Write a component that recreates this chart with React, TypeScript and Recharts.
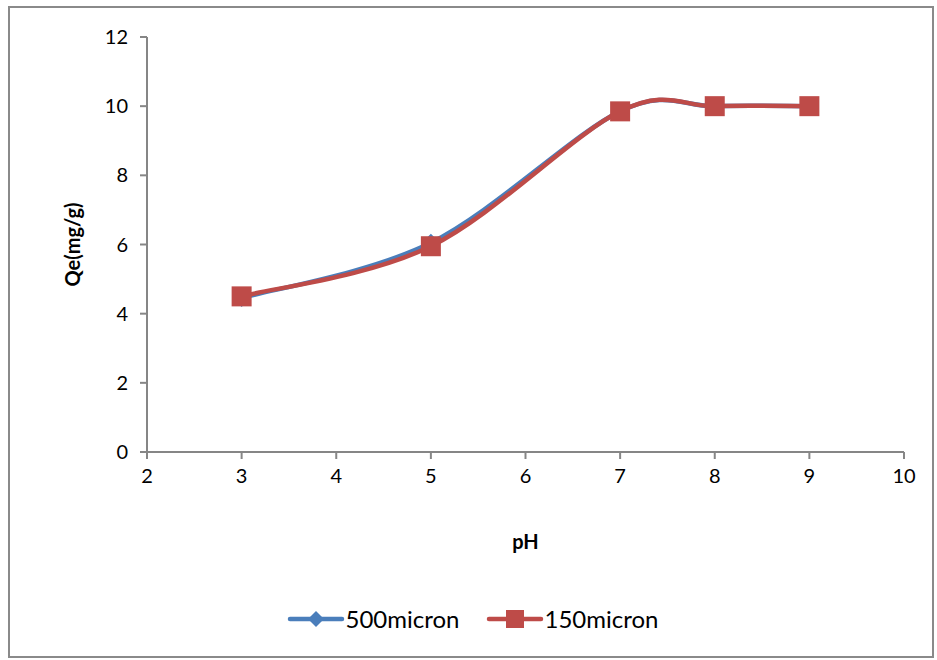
import React from "react";
import {
  LineChart,
  Line,
  XAxis,
  YAxis,
  Legend,
} from "recharts";

const PH = [3, 5, 7, 8, 9];
const QE_500 = [4.45, 6.05, 9.85, 10, 10];
const QE_150 = [4.5, 5.95, 9.85, 10, 10];
const X_TICKS = [2, 3, 4, 5, 6, 7, 8, 9, 10];
const Y_TICKS = [0, 2, 4, 6, 8, 10, 12];

const data = PH.map((ph, i) => ({ ph, s500: QE_500[i], s150: QE_150[i] }));

const BLUE = "#4a7ebb";
const RED = "#be4b48";
const AXIS = "#868686";
const FONT = "Lato, 'Open Sans', sans-serif";

// Excel-style smoothed line (Catmull-Rom as cubic bezier, tension 1/6)
function excelCurve(context: any) {
  let pts: number[][] = [];
  return {
    areaStart() {},
    areaEnd() {},
    lineStart() {
      pts = [];
    },
    point(x: number, y: number) {
      pts.push([+x, +y]);
    },
    lineEnd() {
      if (!pts.length) return;
      context.moveTo(pts[0][0], pts[0][1]);
      for (let i = 0; i < pts.length - 1; i++) {
        const p0 = pts[i - 1] || pts[i];
        const p1 = pts[i];
        const p2 = pts[i + 1];
        const p3 = pts[i + 2] || p2;
        context.bezierCurveTo(
          p1[0] + (p2[0] - p0[0]) / 6,
          p1[1] + (p2[1] - p0[1]) / 6,
          p2[0] - (p3[0] - p1[0]) / 6,
          p2[1] - (p3[1] - p1[1]) / 6,
          p2[0],
          p2[1]
        );
      }
    },
  };
}

function Diamond({ cx, cy, r = 8, fill = BLUE }: any) {
  return (
    <path
      d={`M${cx},${cy - r}L${cx + r},${cy}L${cx},${cy + r}L${cx - r},${cy}Z`}
      fill={fill}
    />
  );
}

function Square({ cx, cy, s = 9, fill = RED }: any) {
  return <rect x={cx - s} y={cy - s} width={s * 2} height={s * 2} fill={fill} />;
}

function LegendBox() {
  const item = (label: string, color: string, marker: React.ReactNode) => (
    <div style={{ display: "flex", alignItems: "center", gap: 1 }}>
      <svg width={58} height={20}>
        <line x1={3} y1={10} x2={55} y2={10} stroke={color} strokeWidth={4.5} strokeLinecap="round" />
        {marker}
      </svg>
      <span>{label}</span>
    </div>
  );
  return (
    <div
      style={{
        display: "flex",
        justifyContent: "center",
        gap: 26,
        fontFamily: FONT,
        fontSize: 24,
        color: "#000",
        paddingLeft: 8,
      }}
    >
      {item("500micron", BLUE, <Diamond cx={29} cy={10} r={8} />)}
      {item("150micron", RED, <Square cx={29} cy={10} s={9} />)}
    </div>
  );
}

export default function App() {
  return (
    <div style={{ position: "absolute", left: 0, top: 0, width: 937, height: 660, background: "#fff" }}>
      <div
        style={{
          position: "absolute",
          left: 8,
          top: 6,
          width: 922,
          height: 648,
          border: "2px solid #8a8a8a",
        }}
      />
      <LineChart
        width={937}
        height={660}
        data={data}
        margin={{ top: 37, right: 33, left: 67, bottom: 122 }}
        style={{ position: "absolute", left: 0, top: 0 }}
      >
        <XAxis
          type="number"
          dataKey="ph"
          domain={[2, 10]}
          ticks={X_TICKS}
          interval={0}
          stroke={AXIS}
          strokeWidth={2}
          tickSize={7}
          tickMargin={10}
          tick={{ fill: "#000", fontSize: 20, fontFamily: FONT }}
          height={57}
          label={{
            value: "pH",
            position: "insideBottom",
            offset: -40,
            fill: "#000",
            fontSize: 20,
            fontWeight: 700,
            fontFamily: FONT,
          }}
        />
        <YAxis
          type="number"
          domain={[0, 12]}
          ticks={Y_TICKS}
          interval={0}
          stroke={AXIS}
          strokeWidth={2}
          tickSize={7}
          tickMargin={12}
          tick={{ fill: "#000", fontSize: 20, fontFamily: FONT }}
          width={80}
          label={{
            value: "Qe(mg/g)",
            angle: -90,
            position: "insideLeft",
            offset: 0,
            dx: 6,
            fill: "#000",
            fontSize: 20,
            fontWeight: 700,
            fontFamily: FONT,
            style: { textAnchor: "middle" },
          }}
        />
        <Line
          dataKey="s500"
          name="500micron"
          type={excelCurve as any}
          stroke={BLUE}
          strokeWidth={4.5}
          dot={(p: any) => <Diamond key={`d${p.index}`} cx={p.cx} cy={p.cy} r={9} />}
          activeDot={false}
          isAnimationActive={false}
        />
        <Line
          dataKey="s150"
          name="150micron"
          type={excelCurve as any}
          stroke={RED}
          strokeWidth={4.5}
          dot={(p: any) => <Square key={`s${p.index}`} cx={p.cx} cy={p.cy} s={10} />}
          activeDot={false}
          isAnimationActive={false}
        />
        <Legend
          content={() => <LegendBox />}
          wrapperStyle={{ position: "absolute", top: 604, left: 0, width: 937 }}
        />
      </LineChart>
    </div>
  );
}
